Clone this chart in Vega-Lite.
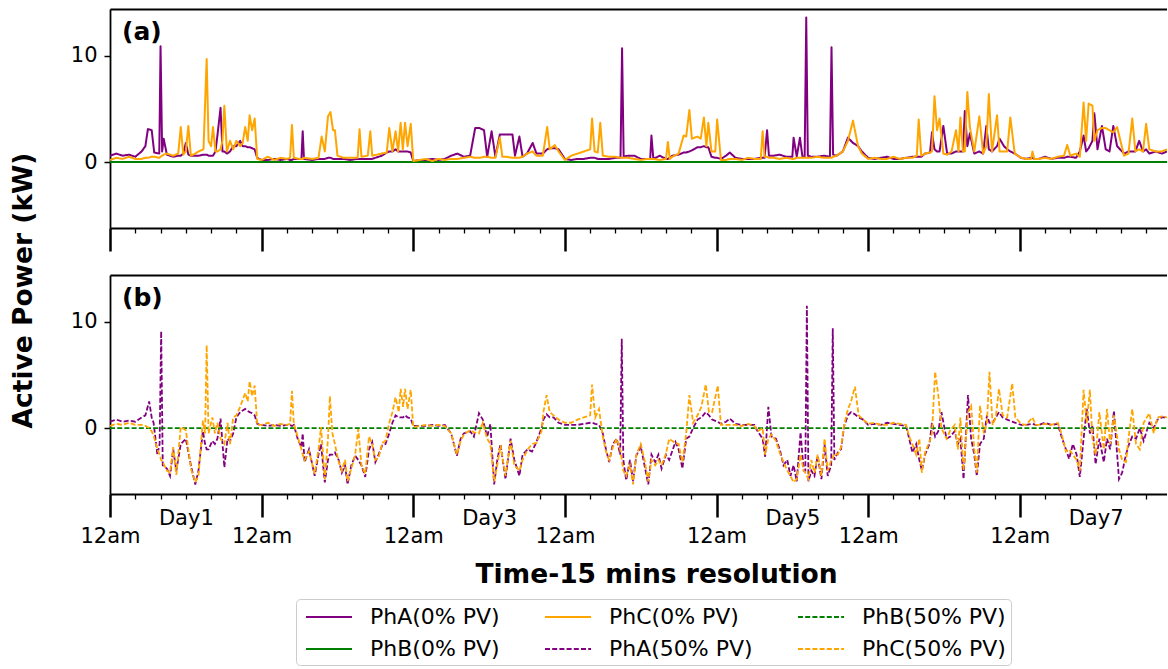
{
  "$schema": "https://vega.github.io/schema/vega-lite/v6.json",
  "autosize": {"type": "pad"},
  "padding": {"left": 10, "top": 9, "right": 0, "bottom": 0},
  "background": "white",
  "bounds": "flush",
  "spacing": 47,
  "config": {
    "font": "DejaVu Sans",
    "view": {"stroke": null},
    "axis": {"labelFont": "DejaVu Sans", "titleFont": "DejaVu Sans", "labelColor": "black", "titleColor": "black", "tickColor": "black", "domainColor": "black", "grid": false, "labelFontSize": 21, "titleFontSize": 26.5, "titleFontWeight": "bold", "domainWidth": 1.8, "labelOverlap": false, "labelFlush": false, "labelBound": false},
    "legend": {"labelFont": "DejaVu Sans", "labelFontSize": 22, "labelColor": "black", "symbolType": "M-0.667,0H3.167", "symbolSize": 576, "symbolStrokeWidth": 2, "labelOffset": 43, "columnPadding": 40, "rowPadding": 8, "padding": 5, "strokeColor": "#cccccc", "cornerRadius": 4, "fillColor": "white", "labelLimit": 0},
    "title": {"font": "DejaVu Sans", "fontSize": 25, "fontWeight": "bold", "color": "black", "anchor": "start", "frame": "group", "orient": "top", "offset": 0, "dx": 12, "dy": 40, "baseline": "alphabetic"}
  },
  "datasets": {
    "A": [
      {"t":0,"PhA(0% PV)":0.6,"PhC(0% PV)":0.2},{"t":1,"PhA(0% PV)":0.8,"PhC(0% PV)":0.4},{"t":2,"PhA(0% PV)":0.6,"PhC(0% PV)":0.3},{"t":3,"PhA(0% PV)":0.7,"PhC(0% PV)":0.5},{"t":4,"PhA(0% PV)":0.5,"PhC(0% PV)":0.3},{"t":5,"PhA(0% PV)":1.0,"PhC(0% PV)":0.3},{"t":5.6,"PhA(0% PV)":1.5,"PhC(0% PV)":0.4},{"t":6,"PhA(0% PV)":3.1,"PhC(0% PV)":0.4},{"t":6.6,"PhA(0% PV)":3.0,"PhC(0% PV)":0.5},{"t":7,"PhA(0% PV)":0.9,"PhC(0% PV)":0.5},{"t":7.8,"PhA(0% PV)":0.8,"PhC(0% PV)":0.4},{"t":8,"PhA(0% PV)":10.9,"PhC(0% PV)":0.5},{"t":8.25,"PhA(0% PV)":1.0,"PhC(0% PV)":0.6},{"t":8.5,"PhA(0% PV)":2.2,"PhC(0% PV)":0.7},{"t":9,"PhA(0% PV)":0.7,"PhC(0% PV)":0.8},{"t":10,"PhA(0% PV)":0.5,"PhC(0% PV)":0.6},{"t":10.8,"PhA(0% PV)":0.6,"PhC(0% PV)":0.8},{"t":11.2,"PhA(0% PV)":0.6,"PhC(0% PV)":3.3},{"t":11.6,"PhA(0% PV)":0.8,"PhC(0% PV)":0.7},{"t":12,"PhA(0% PV)":1.8,"PhC(0% PV)":1.0},{"t":12.4,"PhA(0% PV)":0.7,"PhC(0% PV)":3.4},{"t":12.8,"PhA(0% PV)":0.6,"PhC(0% PV)":0.6},{"t":13.5,"PhA(0% PV)":0.6,"PhC(0% PV)":0.8},{"t":14,"PhA(0% PV)":0.6,"PhC(0% PV)":1.0},{"t":14.8,"PhA(0% PV)":0.7,"PhC(0% PV)":1.2},{"t":15.3,"PhA(0% PV)":0.7,"PhC(0% PV)":9.7},{"t":15.6,"PhA(0% PV)":0.6,"PhC(0% PV)":2.0},{"t":16,"PhA(0% PV)":0.6,"PhC(0% PV)":1.5},{"t":16.3,"PhA(0% PV)":0.6,"PhC(0% PV)":3.3},{"t":16.7,"PhA(0% PV)":1.0,"PhC(0% PV)":1.0},{"t":17,"PhA(0% PV)":2.5,"PhC(0% PV)":1.0},{"t":17.5,"PhA(0% PV)":5.1,"PhC(0% PV)":1.2},{"t":17.8,"PhA(0% PV)":1.0,"PhC(0% PV)":2.0},{"t":18.1,"PhA(0% PV)":1.0,"PhC(0% PV)":5.3},{"t":18.5,"PhA(0% PV)":0.8,"PhC(0% PV)":1.0},{"t":19,"PhA(0% PV)":1.0,"PhC(0% PV)":2.0},{"t":19.5,"PhA(0% PV)":1.5,"PhC(0% PV)":1.2},{"t":20,"PhA(0% PV)":1.5,"PhC(0% PV)":2.0},{"t":20.6,"PhA(0% PV)":2.0,"PhC(0% PV)":1.5},{"t":21,"PhA(0% PV)":1.5,"PhC(0% PV)":1.8},{"t":21.4,"PhA(0% PV)":1.5,"PhC(0% PV)":3.3},{"t":21.8,"PhA(0% PV)":1.4,"PhC(0% PV)":2.0},{"t":22.1,"PhA(0% PV)":1.4,"PhC(0% PV)":4.4},{"t":22.5,"PhA(0% PV)":1.3,"PhC(0% PV)":3.0},{"t":22.9,"PhA(0% PV)":1.2,"PhC(0% PV)":4.1},{"t":23.3,"PhA(0% PV)":0.4,"PhC(0% PV)":0.3},
      {"t":24,"PhA(0% PV)":0.2,"PhC(0% PV)":0.2},{"t":25,"PhA(0% PV)":0.2,"PhC(0% PV)":0.5},{"t":26,"PhA(0% PV)":0.3,"PhC(0% PV)":0.2},{"t":27,"PhA(0% PV)":0.2,"PhC(0% PV)":0.4},{"t":28,"PhA(0% PV)":0.3,"PhC(0% PV)":0.3},{"t":28.5,"PhA(0% PV)":0.2,"PhC(0% PV)":0.4},{"t":28.8,"PhA(0% PV)":0.2,"PhC(0% PV)":3.5},{"t":29.1,"PhA(0% PV)":0.3,"PhC(0% PV)":0.4},{"t":30,"PhA(0% PV)":0.3,"PhC(0% PV)":0.3},{"t":30.3,"PhA(0% PV)":0.3,"PhC(0% PV)":0.3},{"t":30.5,"PhA(0% PV)":2.9,"PhC(0% PV)":0.3},{"t":30.7,"PhA(0% PV)":0.3,"PhC(0% PV)":0.4},{"t":32,"PhA(0% PV)":0.2,"PhC(0% PV)":0.3},{"t":33,"PhA(0% PV)":0.3,"PhC(0% PV)":0.4},{"t":33.5,"PhA(0% PV)":0.3,"PhC(0% PV)":2.4},{"t":34,"PhA(0% PV)":0.3,"PhC(0% PV)":1.0},{"t":34.5,"PhA(0% PV)":0.4,"PhC(0% PV)":4.3},{"t":34.9,"PhA(0% PV)":0.4,"PhC(0% PV)":4.7},{"t":35.3,"PhA(0% PV)":0.3,"PhC(0% PV)":3.0},{"t":35.6,"PhA(0% PV)":0.3,"PhC(0% PV)":3.0},{"t":36,"PhA(0% PV)":0.3,"PhC(0% PV)":0.6},{"t":37,"PhA(0% PV)":0.3,"PhC(0% PV)":0.4},{"t":38,"PhA(0% PV)":0.2,"PhC(0% PV)":0.4},{"t":39.2,"PhA(0% PV)":0.3,"PhC(0% PV)":0.4},{"t":39.5,"PhA(0% PV)":0.3,"PhC(0% PV)":3.1},{"t":39.8,"PhA(0% PV)":0.3,"PhC(0% PV)":0.5},{"t":40.8,"PhA(0% PV)":0.3,"PhC(0% PV)":0.6},{"t":41.2,"PhA(0% PV)":0.3,"PhC(0% PV)":2.9},{"t":41.5,"PhA(0% PV)":0.3,"PhC(0% PV)":0.6},{"t":43,"PhA(0% PV)":0.6,"PhC(0% PV)":0.8},{"t":43.8,"PhA(0% PV)":0.9,"PhC(0% PV)":0.9},{"t":44.2,"PhA(0% PV)":1.0,"PhC(0% PV)":3.2},{"t":44.7,"PhA(0% PV)":1.0,"PhC(0% PV)":1.0},{"t":45.2,"PhA(0% PV)":1.2,"PhC(0% PV)":2.9},{"t":45.6,"PhA(0% PV)":1.0,"PhC(0% PV)":1.0},{"t":46,"PhA(0% PV)":1.0,"PhC(0% PV)":3.7},{"t":46.35,"PhA(0% PV)":1.0,"PhC(0% PV)":1.2},{"t":46.7,"PhA(0% PV)":1.0,"PhC(0% PV)":3.7},{"t":47.1,"PhA(0% PV)":1.0,"PhC(0% PV)":1.5},{"t":47.6,"PhA(0% PV)":0.9,"PhC(0% PV)":3.6},
      {"t":48,"PhA(0% PV)":0.1,"PhC(0% PV)":0.1},{"t":49,"PhA(0% PV)":0.2,"PhC(0% PV)":0.2},{"t":50,"PhA(0% PV)":0.2,"PhC(0% PV)":0.3},{"t":51,"PhA(0% PV)":0.3,"PhC(0% PV)":0.1},{"t":52,"PhA(0% PV)":0.2,"PhC(0% PV)":0.3},{"t":53,"PhA(0% PV)":0.3,"PhC(0% PV)":0.2},{"t":54,"PhA(0% PV)":0.6,"PhC(0% PV)":0.3},{"t":55,"PhA(0% PV)":0.8,"PhC(0% PV)":0.3},{"t":56,"PhA(0% PV)":0.5,"PhC(0% PV)":0.4},{"t":57,"PhA(0% PV)":0.6,"PhC(0% PV)":0.5},{"t":57.8,"PhA(0% PV)":3.2,"PhC(0% PV)":0.4},{"t":58.5,"PhA(0% PV)":3.2,"PhC(0% PV)":0.4},{"t":59.2,"PhA(0% PV)":3.0,"PhC(0% PV)":0.5},{"t":59.7,"PhA(0% PV)":0.5,"PhC(0% PV)":0.5},{"t":60.4,"PhA(0% PV)":2.9,"PhC(0% PV)":0.4},{"t":61,"PhA(0% PV)":0.5,"PhC(0% PV)":0.4},{"t":61.7,"PhA(0% PV)":2.6,"PhC(0% PV)":2.3},{"t":62.1,"PhA(0% PV)":2.6,"PhC(0% PV)":0.5},{"t":62.7,"PhA(0% PV)":2.6,"PhC(0% PV)":0.5},{"t":63.7,"PhA(0% PV)":2.6,"PhC(0% PV)":0.4},{"t":64.1,"PhA(0% PV)":0.6,"PhC(0% PV)":0.4},{"t":64.8,"PhA(0% PV)":2.4,"PhC(0% PV)":0.4},{"t":65.3,"PhA(0% PV)":0.5,"PhC(0% PV)":0.5},{"t":66,"PhA(0% PV)":0.8,"PhC(0% PV)":0.8},{"t":66.9,"PhA(0% PV)":1.8,"PhC(0% PV)":1.0},{"t":67.5,"PhA(0% PV)":0.8,"PhC(0% PV)":0.6},{"t":68.5,"PhA(0% PV)":0.8,"PhC(0% PV)":0.6},{"t":69.2,"PhA(0% PV)":1.2,"PhC(0% PV)":3.3},{"t":69.6,"PhA(0% PV)":1.3,"PhC(0% PV)":1.2},{"t":70.4,"PhA(0% PV)":1.3,"PhC(0% PV)":1.6},{"t":71,"PhA(0% PV)":1.2,"PhC(0% PV)":1.0},
      {"t":72,"PhA(0% PV)":0.3,"PhC(0% PV)":0.2},{"t":73,"PhA(0% PV)":0.2,"PhC(0% PV)":0.6},{"t":74,"PhA(0% PV)":0.3,"PhC(0% PV)":0.8},{"t":75,"PhA(0% PV)":0.3,"PhC(0% PV)":1.0},{"t":76,"PhA(0% PV)":0.4,"PhC(0% PV)":1.2},{"t":76.3,"PhA(0% PV)":0.4,"PhC(0% PV)":4.1},{"t":76.7,"PhA(0% PV)":0.4,"PhC(0% PV)":1.0},{"t":77.2,"PhA(0% PV)":0.3,"PhC(0% PV)":0.9},{"t":77.6,"PhA(0% PV)":0.3,"PhC(0% PV)":3.7},{"t":78,"PhA(0% PV)":0.3,"PhC(0% PV)":0.6},{"t":79,"PhA(0% PV)":0.3,"PhC(0% PV)":0.5},{"t":80,"PhA(0% PV)":0.4,"PhC(0% PV)":0.5},{"t":80.8,"PhA(0% PV)":0.4,"PhC(0% PV)":0.4},{"t":81.05,"PhA(0% PV)":10.7,"PhC(0% PV)":0.4},{"t":81.3,"PhA(0% PV)":0.5,"PhC(0% PV)":0.4},{"t":82,"PhA(0% PV)":0.6,"PhC(0% PV)":0.4},{"t":83,"PhA(0% PV)":0.6,"PhC(0% PV)":0.3},{"t":84,"PhA(0% PV)":0.3,"PhC(0% PV)":0.2},{"t":85,"PhA(0% PV)":0.3,"PhC(0% PV)":0.3},{"t":85.5,"PhA(0% PV)":0.3,"PhC(0% PV)":0.3},{"t":85.7,"PhA(0% PV)":2.5,"PhC(0% PV)":0.3},{"t":86,"PhA(0% PV)":0.3,"PhC(0% PV)":0.3},{"t":87,"PhA(0% PV)":0.6,"PhC(0% PV)":0.2},{"t":88,"PhA(0% PV)":0.3,"PhC(0% PV)":0.3},{"t":88.3,"PhA(0% PV)":0.3,"PhC(0% PV)":1.9},{"t":88.6,"PhA(0% PV)":0.4,"PhC(0% PV)":0.3},{"t":89,"PhA(0% PV)":0.6,"PhC(0% PV)":0.5},{"t":90,"PhA(0% PV)":0.7,"PhC(0% PV)":0.8},{"t":90.8,"PhA(0% PV)":0.9,"PhC(0% PV)":2.5},{"t":91.2,"PhA(0% PV)":0.9,"PhC(0% PV)":2.4},{"t":91.7,"PhA(0% PV)":1.0,"PhC(0% PV)":4.9},{"t":92.1,"PhA(0% PV)":1.1,"PhC(0% PV)":2.2},{"t":93,"PhA(0% PV)":1.4,"PhC(0% PV)":2.4},{"t":93.5,"PhA(0% PV)":1.4,"PhC(0% PV)":2.2},{"t":94,"PhA(0% PV)":1.5,"PhC(0% PV)":4.2},{"t":94.4,"PhA(0% PV)":1.4,"PhC(0% PV)":1.5},{"t":94.7,"PhA(0% PV)":1.4,"PhC(0% PV)":3.7},{"t":95.2,"PhA(0% PV)":0.5,"PhC(0% PV)":1.0},{"t":95.8,"PhA(0% PV)":0.4,"PhC(0% PV)":1.0},{"t":96.1,"PhA(0% PV)":0.4,"PhC(0% PV)":4.0},{"t":96.7,"PhA(0% PV)":0.3,"PhC(0% PV)":0.2},
      {"t":97.5,"PhA(0% PV)":0.6,"PhC(0% PV)":0.2},{"t":98.1,"PhA(0% PV)":0.9,"PhC(0% PV)":0.3},{"t":99,"PhA(0% PV)":0.4,"PhC(0% PV)":0.3},{"t":100,"PhA(0% PV)":0.3,"PhC(0% PV)":0.2},{"t":101,"PhA(0% PV)":0.3,"PhC(0% PV)":0.4},{"t":102,"PhA(0% PV)":0.3,"PhC(0% PV)":0.3},{"t":103,"PhA(0% PV)":0.4,"PhC(0% PV)":0.3},{"t":103.3,"PhA(0% PV)":0.4,"PhC(0% PV)":2.9},{"t":103.6,"PhA(0% PV)":0.4,"PhC(0% PV)":0.5},{"t":104,"PhA(0% PV)":3.0,"PhC(0% PV)":0.5},{"t":104.3,"PhA(0% PV)":0.6,"PhC(0% PV)":0.4},{"t":105,"PhA(0% PV)":0.6,"PhC(0% PV)":0.4},{"t":106,"PhA(0% PV)":0.7,"PhC(0% PV)":0.3},{"t":107,"PhA(0% PV)":0.5,"PhC(0% PV)":0.4},{"t":108,"PhA(0% PV)":0.5,"PhC(0% PV)":0.3},{"t":108.2,"PhA(0% PV)":2.3,"PhC(0% PV)":0.3},{"t":108.7,"PhA(0% PV)":0.5,"PhC(0% PV)":0.4},{"t":109.2,"PhA(0% PV)":2.3,"PhC(0% PV)":0.4},{"t":109.6,"PhA(0% PV)":0.5,"PhC(0% PV)":0.4},{"t":109.95,"PhA(0% PV)":0.5,"PhC(0% PV)":0.4},{"t":110.2,"PhA(0% PV)":13.6,"PhC(0% PV)":0.4},{"t":110.45,"PhA(0% PV)":0.6,"PhC(0% PV)":0.4},{"t":111,"PhA(0% PV)":0.5,"PhC(0% PV)":0.4},{"t":112,"PhA(0% PV)":0.5,"PhC(0% PV)":0.5},{"t":113,"PhA(0% PV)":0.6,"PhC(0% PV)":0.4},{"t":113.95,"PhA(0% PV)":0.5,"PhC(0% PV)":0.4},{"t":114.2,"PhA(0% PV)":10.8,"PhC(0% PV)":0.4},{"t":114.45,"PhA(0% PV)":0.7,"PhC(0% PV)":0.5},{"t":115,"PhA(0% PV)":0.6,"PhC(0% PV)":0.6},{"t":116,"PhA(0% PV)":1.0,"PhC(0% PV)":1.0},{"t":116.8,"PhA(0% PV)":2.3,"PhC(0% PV)":2.0},{"t":117.6,"PhA(0% PV)":1.8,"PhC(0% PV)":3.9},{"t":118.4,"PhA(0% PV)":1.5,"PhC(0% PV)":1.5},{"t":119,"PhA(0% PV)":1.0,"PhC(0% PV)":0.8},
      {"t":120,"PhA(0% PV)":0.4,"PhC(0% PV)":0.3},{"t":121,"PhA(0% PV)":0.3,"PhC(0% PV)":0.4},{"t":122,"PhA(0% PV)":0.4,"PhC(0% PV)":0.3},{"t":123,"PhA(0% PV)":0.5,"PhC(0% PV)":0.3},{"t":124,"PhA(0% PV)":0.3,"PhC(0% PV)":0.5},{"t":125,"PhA(0% PV)":0.3,"PhC(0% PV)":0.3},{"t":126,"PhA(0% PV)":0.4,"PhC(0% PV)":0.4},{"t":127,"PhA(0% PV)":0.5,"PhC(0% PV)":0.4},{"t":127.7,"PhA(0% PV)":0.5,"PhC(0% PV)":0.6},{"t":128,"PhA(0% PV)":0.5,"PhC(0% PV)":4.0},{"t":128.4,"PhA(0% PV)":0.5,"PhC(0% PV)":0.6},{"t":129,"PhA(0% PV)":0.8,"PhC(0% PV)":0.8},{"t":129.8,"PhA(0% PV)":0.9,"PhC(0% PV)":0.9},{"t":130.1,"PhA(0% PV)":2.8,"PhC(0% PV)":1.0},{"t":130.5,"PhA(0% PV)":1.2,"PhC(0% PV)":6.2},{"t":130.9,"PhA(0% PV)":1.0,"PhC(0% PV)":3.0},{"t":131.3,"PhA(0% PV)":1.0,"PhC(0% PV)":4.1},{"t":131.9,"PhA(0% PV)":3.4,"PhC(0% PV)":0.8},{"t":132.5,"PhA(0% PV)":0.8,"PhC(0% PV)":0.7},{"t":133.2,"PhA(0% PV)":0.8,"PhC(0% PV)":1.0},{"t":133.9,"PhA(0% PV)":1.0,"PhC(0% PV)":3.0},{"t":134.3,"PhA(0% PV)":1.0,"PhC(0% PV)":1.0},{"t":134.6,"PhA(0% PV)":1.0,"PhC(0% PV)":4.2},{"t":135,"PhA(0% PV)":1.0,"PhC(0% PV)":1.0},{"t":135.3,"PhA(0% PV)":4.8,"PhC(0% PV)":1.0},{"t":135.7,"PhA(0% PV)":1.5,"PhC(0% PV)":6.6},{"t":136.1,"PhA(0% PV)":2.7,"PhC(0% PV)":3.3},{"t":136.8,"PhA(0% PV)":0.8,"PhC(0% PV)":1.0},{"t":137.6,"PhA(0% PV)":1.0,"PhC(0% PV)":4.3},{"t":138.2,"PhA(0% PV)":0.8,"PhC(0% PV)":0.8},{"t":138.7,"PhA(0% PV)":3.4,"PhC(0% PV)":1.5},{"t":139.1,"PhA(0% PV)":1.2,"PhC(0% PV)":6.4},{"t":139.6,"PhA(0% PV)":1.0,"PhC(0% PV)":1.0},{"t":140.4,"PhA(0% PV)":1.5,"PhC(0% PV)":4.4},{"t":140.8,"PhA(0% PV)":2.2,"PhC(0% PV)":1.0},{"t":141.5,"PhA(0% PV)":1.5,"PhC(0% PV)":1.0},{"t":142,"PhA(0% PV)":1.2,"PhC(0% PV)":1.0},{"t":142.5,"PhA(0% PV)":1.0,"PhC(0% PV)":4.2},{"t":143.2,"PhA(0% PV)":0.8,"PhC(0% PV)":0.8},
      {"t":144.2,"PhA(0% PV)":0.4,"PhC(0% PV)":0.4},{"t":145,"PhA(0% PV)":0.3,"PhC(0% PV)":0.3},{"t":145.8,"PhA(0% PV)":0.4,"PhC(0% PV)":0.3},{"t":146,"PhA(0% PV)":0.4,"PhC(0% PV)":1.0},{"t":146.3,"PhA(0% PV)":0.3,"PhC(0% PV)":0.3},{"t":147,"PhA(0% PV)":0.3,"PhC(0% PV)":0.3},{"t":148,"PhA(0% PV)":0.5,"PhC(0% PV)":0.4},{"t":149,"PhA(0% PV)":0.3,"PhC(0% PV)":0.3},{"t":150,"PhA(0% PV)":0.4,"PhC(0% PV)":0.5},{"t":151,"PhA(0% PV)":0.4,"PhC(0% PV)":0.6},{"t":151.5,"PhA(0% PV)":0.5,"PhC(0% PV)":1.6},{"t":152,"PhA(0% PV)":0.5,"PhC(0% PV)":0.6},{"t":152.9,"PhA(0% PV)":0.4,"PhC(0% PV)":0.8},{"t":153.5,"PhA(0% PV)":1.0,"PhC(0% PV)":0.5},{"t":154.1,"PhA(0% PV)":2.5,"PhC(0% PV)":5.6},{"t":154.5,"PhA(0% PV)":1.0,"PhC(0% PV)":2.0},{"t":154.9,"PhA(0% PV)":1.3,"PhC(0% PV)":5.5},{"t":155.5,"PhA(0% PV)":2.0,"PhC(0% PV)":5.3},{"t":155.8,"PhA(0% PV)":4.6,"PhC(0% PV)":2.0},{"t":156.3,"PhA(0% PV)":1.2,"PhC(0% PV)":3.0},{"t":157,"PhA(0% PV)":3.4,"PhC(0% PV)":3.2},{"t":157.6,"PhA(0% PV)":1.2,"PhC(0% PV)":3.2},{"t":158.2,"PhA(0% PV)":1.0,"PhC(0% PV)":3.0},{"t":158.8,"PhA(0% PV)":3.4,"PhC(0% PV)":2.8},{"t":159.4,"PhA(0% PV)":1.5,"PhC(0% PV)":3.3},{"t":160.5,"PhA(0% PV)":0.8,"PhC(0% PV)":0.6},{"t":161.2,"PhA(0% PV)":1.0,"PhC(0% PV)":0.8},{"t":161.8,"PhA(0% PV)":1.0,"PhC(0% PV)":4.1},{"t":162.3,"PhA(0% PV)":1.0,"PhC(0% PV)":1.0},{"t":162.9,"PhA(0% PV)":2.0,"PhC(0% PV)":1.2},{"t":163.5,"PhA(0% PV)":1.0,"PhC(0% PV)":1.0},{"t":164,"PhA(0% PV)":1.2,"PhC(0% PV)":3.6},{"t":164.5,"PhA(0% PV)":0.8,"PhC(0% PV)":1.2},{"t":165.5,"PhA(0% PV)":1.0,"PhC(0% PV)":1.0},{"t":166.5,"PhA(0% PV)":0.8,"PhC(0% PV)":1.0},{"t":167.3,"PhA(0% PV)":1.0,"PhC(0% PV)":1.2}
    ],
    "B": [
      {"t":0,"PhA(50% PV)":0.6,"PhC(50% PV)":0.2},{"t":1,"PhA(50% PV)":0.8,"PhC(50% PV)":0.4},{"t":2,"PhA(50% PV)":0.6,"PhC(50% PV)":0.3},{"t":3,"PhA(50% PV)":0.7,"PhC(50% PV)":0.5},{"t":4,"PhA(50% PV)":0.6,"PhC(50% PV)":0.3},{"t":5,"PhA(50% PV)":1.0,"PhC(50% PV)":0.3},{"t":5.6,"PhA(50% PV)":1.2,"PhC(50% PV)":0.2},{"t":6.2,"PhA(50% PV)":2.5,"PhC(50% PV)":0.0},{"t":6.6,"PhA(50% PV)":1.0,"PhC(50% PV)":-0.3},{"t":6.9,"PhA(50% PV)":0.5,"PhC(50% PV)":-0.7},{"t":7.5,"PhA(50% PV)":-2.5,"PhC(50% PV)":-2.0},{"t":7.85,"PhA(50% PV)":-1.5,"PhC(50% PV)":-2.5},{"t":8.1,"PhA(50% PV)":9.1,"PhC(50% PV)":-3.0},{"t":8.35,"PhA(50% PV)":-3.5,"PhC(50% PV)":-3.2},{"t":9,"PhA(50% PV)":-3.8,"PhC(50% PV)":-4.0},{"t":9.5,"PhA(50% PV)":-4.5,"PhC(50% PV)":-4.2},{"t":10,"PhA(50% PV)":-2.0,"PhC(50% PV)":-1.8},{"t":10.5,"PhA(50% PV)":-4.0,"PhC(50% PV)":-4.4},{"t":11.2,"PhA(50% PV)":-1.5,"PhC(50% PV)":0.1},{"t":12,"PhA(50% PV)":-1.0,"PhC(50% PV)":-0.2},{"t":12.8,"PhA(50% PV)":-3.5,"PhC(50% PV)":-3.8},{"t":13.5,"PhA(50% PV)":-5.3,"PhC(50% PV)":-5.1},{"t":14,"PhA(50% PV)":-4.0,"PhC(50% PV)":-4.5},{"t":14.7,"PhA(50% PV)":-0.3,"PhC(50% PV)":0.7},{"t":15.05,"PhA(50% PV)":-1.5,"PhC(50% PV)":-0.5},{"t":15.3,"PhA(50% PV)":-2.0,"PhC(50% PV)":7.8},{"t":15.6,"PhA(50% PV)":-2.0,"PhC(50% PV)":-0.5},{"t":16.2,"PhA(50% PV)":-1.2,"PhC(50% PV)":1.0},{"t":16.6,"PhA(50% PV)":-1.5,"PhC(50% PV)":-0.5},{"t":17,"PhA(50% PV)":-1.0,"PhC(50% PV)":0.5},{"t":17.5,"PhA(50% PV)":0.9,"PhC(50% PV)":-1.0},{"t":18.1,"PhA(50% PV)":-3.7,"PhC(50% PV)":-1.5},{"t":18.6,"PhA(50% PV)":-1.0,"PhC(50% PV)":0.5},{"t":19,"PhA(50% PV)":-1.2,"PhC(50% PV)":-1.5},{"t":19.5,"PhA(50% PV)":-0.5,"PhC(50% PV)":1.0},{"t":20,"PhA(50% PV)":1.0,"PhC(50% PV)":1.2},{"t":20.6,"PhA(50% PV)":1.5,"PhC(50% PV)":2.0},{"t":21.4,"PhA(50% PV)":1.8,"PhC(50% PV)":3.3},{"t":21.8,"PhA(50% PV)":1.6,"PhC(50% PV)":2.5},{"t":22.1,"PhA(50% PV)":1.5,"PhC(50% PV)":4.4},{"t":22.5,"PhA(50% PV)":1.4,"PhC(50% PV)":3.0},{"t":22.9,"PhA(50% PV)":1.2,"PhC(50% PV)":4.0},{"t":23.3,"PhA(50% PV)":0.4,"PhC(50% PV)":0.3},
      {"t":24,"PhA(50% PV)":0.3,"PhC(50% PV)":0.3},{"t":25,"PhA(50% PV)":0.2,"PhC(50% PV)":0.5},{"t":26,"PhA(50% PV)":0.3,"PhC(50% PV)":0.2},{"t":27,"PhA(50% PV)":0.2,"PhC(50% PV)":0.4},{"t":28,"PhA(50% PV)":0.3,"PhC(50% PV)":0.3},{"t":28.5,"PhA(50% PV)":0.3,"PhC(50% PV)":0.4},{"t":28.8,"PhA(50% PV)":0.2,"PhC(50% PV)":3.5},{"t":29.1,"PhA(50% PV)":0.3,"PhC(50% PV)":0.4},{"t":29.7,"PhA(50% PV)":-1.0,"PhC(50% PV)":-0.8},{"t":30.3,"PhA(50% PV)":-1.8,"PhC(50% PV)":-2.0},{"t":30.5,"PhA(50% PV)":-0.5,"PhC(50% PV)":-2.5},{"t":30.8,"PhA(50% PV)":-3.2,"PhC(50% PV)":-3.0},{"t":31.5,"PhA(50% PV)":-2.0,"PhC(50% PV)":-2.2},{"t":32.4,"PhA(50% PV)":-4.5,"PhC(50% PV)":-4.3},{"t":33,"PhA(50% PV)":-2.5,"PhC(50% PV)":-2.0},{"t":33.4,"PhA(50% PV)":-1.5,"PhC(50% PV)":0.1},{"t":34,"PhA(50% PV)":-5.1,"PhC(50% PV)":-4.8},{"t":34.5,"PhA(50% PV)":-3.0,"PhC(50% PV)":-1.0},{"t":34.8,"PhA(50% PV)":-2.5,"PhC(50% PV)":3.0},{"t":35.2,"PhA(50% PV)":-2.5,"PhC(50% PV)":-0.5},{"t":35.6,"PhA(50% PV)":-2.3,"PhC(50% PV)":-1.5},{"t":36.2,"PhA(50% PV)":-3.0,"PhC(50% PV)":-3.2},{"t":36.7,"PhA(50% PV)":-4.2,"PhC(50% PV)":-4.0},{"t":37.2,"PhA(50% PV)":-3.5,"PhC(50% PV)":-3.0},{"t":37.6,"PhA(50% PV)":-5.3,"PhC(50% PV)":-5.0},{"t":38.2,"PhA(50% PV)":-3.5,"PhC(50% PV)":-3.8},{"t":38.8,"PhA(50% PV)":-2.6,"PhC(50% PV)":-2.5},{"t":39.3,"PhA(50% PV)":-3.0,"PhC(50% PV)":-0.1},{"t":39.8,"PhA(50% PV)":-3.5,"PhC(50% PV)":-3.5},{"t":40.4,"PhA(50% PV)":-4.6,"PhC(50% PV)":-4.3},{"t":41,"PhA(50% PV)":-2.0,"PhC(50% PV)":-0.8},{"t":41.5,"PhA(50% PV)":-1.3,"PhC(50% PV)":-1.5},{"t":42,"PhA(50% PV)":-3.2,"PhC(50% PV)":-3.0},{"t":42.5,"PhA(50% PV)":-2.5,"PhC(50% PV)":-2.8},{"t":43.1,"PhA(50% PV)":-1.6,"PhC(50% PV)":-1.4},{"t":43.6,"PhA(50% PV)":-1.5,"PhC(50% PV)":-1.2},{"t":44.2,"PhA(50% PV)":-0.5,"PhC(50% PV)":0.5},{"t":44.7,"PhA(50% PV)":0.5,"PhC(50% PV)":1.5},{"t":45.2,"PhA(50% PV)":1.2,"PhC(50% PV)":2.9},{"t":45.7,"PhA(50% PV)":1.0,"PhC(50% PV)":1.5},{"t":46,"PhA(50% PV)":1.0,"PhC(50% PV)":3.7},{"t":46.4,"PhA(50% PV)":1.0,"PhC(50% PV)":2.0},{"t":46.7,"PhA(50% PV)":1.2,"PhC(50% PV)":3.7},{"t":47.1,"PhA(50% PV)":1.0,"PhC(50% PV)":1.8},{"t":47.6,"PhA(50% PV)":0.9,"PhC(50% PV)":3.6},
      {"t":48,"PhA(50% PV)":0.2,"PhC(50% PV)":0.1},{"t":49,"PhA(50% PV)":0.2,"PhC(50% PV)":0.2},{"t":50,"PhA(50% PV)":0.2,"PhC(50% PV)":0.3},{"t":51,"PhA(50% PV)":0.3,"PhC(50% PV)":0.2},{"t":52,"PhA(50% PV)":0.2,"PhC(50% PV)":0.3},{"t":53,"PhA(50% PV)":0.3,"PhC(50% PV)":0.2},{"t":54,"PhA(50% PV)":-0.5,"PhC(50% PV)":-0.5},{"t":54.9,"PhA(50% PV)":-2.6,"PhC(50% PV)":-2.5},{"t":55.5,"PhA(50% PV)":-1.0,"PhC(50% PV)":-1.2},{"t":56,"PhA(50% PV)":-0.5,"PhC(50% PV)":-0.6},{"t":57,"PhA(50% PV)":-0.3,"PhC(50% PV)":-0.2},{"t":57.6,"PhA(50% PV)":-0.8,"PhC(50% PV)":-0.4},{"t":58.4,"PhA(50% PV)":1.4,"PhC(50% PV)":-0.5},{"t":59,"PhA(50% PV)":0.8,"PhC(50% PV)":0.5},{"t":59.7,"PhA(50% PV)":-0.8,"PhC(50% PV)":-1.0},{"t":60.2,"PhA(50% PV)":0.4,"PhC(50% PV)":-1.5},{"t":60.8,"PhA(50% PV)":-5.3,"PhC(50% PV)":-5.0},{"t":61.3,"PhA(50% PV)":-3.0,"PhC(50% PV)":-3.5},{"t":61.8,"PhA(50% PV)":-1.5,"PhC(50% PV)":-1.6},{"t":62.6,"PhA(50% PV)":-4.8,"PhC(50% PV)":-4.5},{"t":63.4,"PhA(50% PV)":-1.0,"PhC(50% PV)":-1.2},{"t":64,"PhA(50% PV)":-3.0,"PhC(50% PV)":-3.5},{"t":64.8,"PhA(50% PV)":-4.5,"PhC(50% PV)":-4.0},{"t":65.3,"PhA(50% PV)":-2.5,"PhC(50% PV)":-3.0},{"t":66.1,"PhA(50% PV)":-2.0,"PhC(50% PV)":-2.0},{"t":66.8,"PhA(50% PV)":-2.2,"PhC(50% PV)":-1.5},{"t":67.5,"PhA(50% PV)":-1.3,"PhC(50% PV)":-1.4},{"t":68.3,"PhA(50% PV)":0.0,"PhC(50% PV)":-0.3},{"t":68.6,"PhA(50% PV)":0.8,"PhC(50% PV)":1.5},{"t":69.1,"PhA(50% PV)":1.3,"PhC(50% PV)":3.1},{"t":69.6,"PhA(50% PV)":1.0,"PhC(50% PV)":1.5},{"t":70.2,"PhA(50% PV)":1.0,"PhC(50% PV)":1.2},{"t":71,"PhA(50% PV)":0.5,"PhC(50% PV)":0.8},
      {"t":72,"PhA(50% PV)":0.3,"PhC(50% PV)":0.5},{"t":73,"PhA(50% PV)":0.3,"PhC(50% PV)":0.5},{"t":74,"PhA(50% PV)":0.3,"PhC(50% PV)":0.8},{"t":75,"PhA(50% PV)":0.4,"PhC(50% PV)":1.0},{"t":76,"PhA(50% PV)":0.5,"PhC(50% PV)":1.2},{"t":76.3,"PhA(50% PV)":0.5,"PhC(50% PV)":4.1},{"t":76.8,"PhA(50% PV)":0.4,"PhC(50% PV)":1.0},{"t":77.4,"PhA(50% PV)":0.3,"PhC(50% PV)":1.8},{"t":78,"PhA(50% PV)":-0.5,"PhC(50% PV)":-0.8},{"t":78.5,"PhA(50% PV)":-2.0,"PhC(50% PV)":-2.2},{"t":79,"PhA(50% PV)":-3.2,"PhC(50% PV)":-3.0},{"t":79.6,"PhA(50% PV)":-1.5,"PhC(50% PV)":-1.8},{"t":80.2,"PhA(50% PV)":-1.0,"PhC(50% PV)":-1.0},{"t":80.75,"PhA(50% PV)":-2.5,"PhC(50% PV)":-2.0},{"t":81,"PhA(50% PV)":8.4,"PhC(50% PV)":-3.0},{"t":81.25,"PhA(50% PV)":-3.0,"PhC(50% PV)":-4.0},{"t":81.7,"PhA(50% PV)":-4.9,"PhC(50% PV)":-4.5},{"t":82.3,"PhA(50% PV)":-3.0,"PhC(50% PV)":-3.5},{"t":82.8,"PhA(50% PV)":-5.0,"PhC(50% PV)":-5.3},{"t":83.3,"PhA(50% PV)":-2.6,"PhC(50% PV)":-2.5},{"t":84,"PhA(50% PV)":-1.7,"PhC(50% PV)":-1.5},{"t":84.6,"PhA(50% PV)":-3.5,"PhC(50% PV)":-3.0},{"t":85.2,"PhA(50% PV)":-5.3,"PhC(50% PV)":-5.0},{"t":85.7,"PhA(50% PV)":-2.5,"PhC(50% PV)":-3.0},{"t":86.3,"PhA(50% PV)":-3.2,"PhC(50% PV)":-3.5},{"t":86.8,"PhA(50% PV)":-2.5,"PhC(50% PV)":-3.0},{"t":87.3,"PhA(50% PV)":-3.8,"PhC(50% PV)":-3.5},{"t":88,"PhA(50% PV)":-2.5,"PhC(50% PV)":-2.4},{"t":88.5,"PhA(50% PV)":-3.0,"PhC(50% PV)":-1.0},{"t":89.5,"PhA(50% PV)":-1.3,"PhC(50% PV)":-1.4},{"t":90,"PhA(50% PV)":-2.0,"PhC(50% PV)":-1.5},{"t":90.6,"PhA(50% PV)":-3.8,"PhC(50% PV)":-3.2},{"t":91.2,"PhA(50% PV)":-1.0,"PhC(50% PV)":-0.5},{"t":91.7,"PhA(50% PV)":-0.8,"PhC(50% PV)":3.1},{"t":92.3,"PhA(50% PV)":0.0,"PhC(50% PV)":0.5},{"t":93,"PhA(50% PV)":0.8,"PhC(50% PV)":1.2},{"t":93.6,"PhA(50% PV)":1.0,"PhC(50% PV)":2.0},{"t":94.3,"PhA(50% PV)":1.5,"PhC(50% PV)":4.1},{"t":94.8,"PhA(50% PV)":1.2,"PhC(50% PV)":1.5},{"t":95.3,"PhA(50% PV)":0.8,"PhC(50% PV)":1.5},{"t":96.2,"PhA(50% PV)":0.6,"PhC(50% PV)":4.0},{"t":96.7,"PhA(50% PV)":0.4,"PhC(50% PV)":0.3},
      {"t":97.5,"PhA(50% PV)":0.6,"PhC(50% PV)":0.3},{"t":98.1,"PhA(50% PV)":0.9,"PhC(50% PV)":0.3},{"t":99,"PhA(50% PV)":0.4,"PhC(50% PV)":0.3},{"t":100,"PhA(50% PV)":0.3,"PhC(50% PV)":0.2},{"t":101,"PhA(50% PV)":0.3,"PhC(50% PV)":0.4},{"t":102,"PhA(50% PV)":0.3,"PhC(50% PV)":0.2},{"t":102.5,"PhA(50% PV)":-0.3,"PhC(50% PV)":-0.3},{"t":103.3,"PhA(50% PV)":-1.0,"PhC(50% PV)":0.0},{"t":103.7,"PhA(50% PV)":-2.7,"PhC(50% PV)":-2.5},{"t":104.2,"PhA(50% PV)":2.0,"PhC(50% PV)":-1.0},{"t":104.7,"PhA(50% PV)":-0.8,"PhC(50% PV)":-0.6},{"t":105.4,"PhA(50% PV)":-1.0,"PhC(50% PV)":-1.2},{"t":106,"PhA(50% PV)":-2.0,"PhC(50% PV)":-2.3},{"t":106.6,"PhA(50% PV)":-3.5,"PhC(50% PV)":-3.2},{"t":107.2,"PhA(50% PV)":-3.0,"PhC(50% PV)":-4.0},{"t":107.7,"PhA(50% PV)":-4.5,"PhC(50% PV)":-4.5},{"t":108.2,"PhA(50% PV)":-3.5,"PhC(50% PV)":-5.1},{"t":108.7,"PhA(50% PV)":-5.0,"PhC(50% PV)":-4.8},{"t":109.3,"PhA(50% PV)":-0.4,"PhC(50% PV)":-2.5},{"t":109.8,"PhA(50% PV)":-4.0,"PhC(50% PV)":-4.0},{"t":110.05,"PhA(50% PV)":-4.0,"PhC(50% PV)":-4.2},{"t":110.3,"PhA(50% PV)":11.5,"PhC(50% PV)":-4.5},{"t":110.55,"PhA(50% PV)":-5.0,"PhC(50% PV)":-4.8},{"t":111,"PhA(50% PV)":-4.0,"PhC(50% PV)":-3.0},{"t":111.5,"PhA(50% PV)":-4.5,"PhC(50% PV)":-4.2},{"t":112,"PhA(50% PV)":-2.6,"PhC(50% PV)":-2.5},{"t":112.6,"PhA(50% PV)":-4.8,"PhC(50% PV)":-4.5},{"t":113.1,"PhA(50% PV)":-1.5,"PhC(50% PV)":-1.0},{"t":113.6,"PhA(50% PV)":-4.5,"PhC(50% PV)":-4.0},{"t":114.15,"PhA(50% PV)":-3.5,"PhC(50% PV)":-3.0},{"t":114.4,"PhA(50% PV)":9.4,"PhC(50% PV)":-2.8},{"t":114.65,"PhA(50% PV)":-3.0,"PhC(50% PV)":-2.4},{"t":115.2,"PhA(50% PV)":-2.3,"PhC(50% PV)":-2.5},{"t":115.7,"PhA(50% PV)":-2.0,"PhC(50% PV)":-1.8},{"t":116.2,"PhA(50% PV)":0.2,"PhC(50% PV)":0.3},{"t":116.8,"PhA(50% PV)":1.2,"PhC(50% PV)":1.8},{"t":117.3,"PhA(50% PV)":1.5,"PhC(50% PV)":2.5},{"t":117.9,"PhA(50% PV)":1.3,"PhC(50% PV)":3.9},{"t":118.5,"PhA(50% PV)":1.0,"PhC(50% PV)":1.2},{"t":119.2,"PhA(50% PV)":0.8,"PhC(50% PV)":0.8},
      {"t":120,"PhA(50% PV)":0.3,"PhC(50% PV)":0.4},{"t":121,"PhA(50% PV)":0.4,"PhC(50% PV)":0.5},{"t":122,"PhA(50% PV)":0.3,"PhC(50% PV)":0.3},{"t":123,"PhA(50% PV)":0.5,"PhC(50% PV)":0.3},{"t":124,"PhA(50% PV)":0.4,"PhC(50% PV)":0.5},{"t":125,"PhA(50% PV)":0.3,"PhC(50% PV)":0.4},{"t":126,"PhA(50% PV)":0.2,"PhC(50% PV)":0.3},{"t":126.5,"PhA(50% PV)":-1.0,"PhC(50% PV)":-0.8},{"t":127,"PhA(50% PV)":-2.3,"PhC(50% PV)":-1.5},{"t":127.6,"PhA(50% PV)":-1.5,"PhC(50% PV)":-2.5},{"t":128.1,"PhA(50% PV)":-3.0,"PhC(50% PV)":-1.0},{"t":128.5,"PhA(50% PV)":-4.0,"PhC(50% PV)":-4.2},{"t":129,"PhA(50% PV)":-2.5,"PhC(50% PV)":-2.3},{"t":129.7,"PhA(50% PV)":-1.5,"PhC(50% PV)":-1.3},{"t":130.1,"PhA(50% PV)":0.5,"PhC(50% PV)":-0.5},{"t":130.6,"PhA(50% PV)":-0.8,"PhC(50% PV)":5.3},{"t":131.1,"PhA(50% PV)":-0.3,"PhC(50% PV)":3.1},{"t":131.6,"PhA(50% PV)":1.5,"PhC(50% PV)":0.0},{"t":132.4,"PhA(50% PV)":-1.0,"PhC(50% PV)":-1.0},{"t":133,"PhA(50% PV)":-0.8,"PhC(50% PV)":-0.2},{"t":133.7,"PhA(50% PV)":-0.3,"PhC(50% PV)":0.3},{"t":134.2,"PhA(50% PV)":-1.5,"PhC(50% PV)":-2.0},{"t":134.6,"PhA(50% PV)":-1.0,"PhC(50% PV)":1.0},{"t":135.1,"PhA(50% PV)":-4.8,"PhC(50% PV)":-4.0},{"t":135.8,"PhA(50% PV)":3.1,"PhC(50% PV)":1.5},{"t":136.3,"PhA(50% PV)":-1.0,"PhC(50% PV)":2.1},{"t":136.8,"PhA(50% PV)":-2.5,"PhC(50% PV)":-2.0},{"t":137.2,"PhA(50% PV)":-4.5,"PhC(50% PV)":-4.2},{"t":137.7,"PhA(50% PV)":-1.5,"PhC(50% PV)":2.1},{"t":138.3,"PhA(50% PV)":-1.0,"PhC(50% PV)":-0.5},{"t":138.8,"PhA(50% PV)":1.2,"PhC(50% PV)":0.5},{"t":139.2,"PhA(50% PV)":0.5,"PhC(50% PV)":5.3},{"t":139.7,"PhA(50% PV)":0.5,"PhC(50% PV)":0.3},{"t":140.2,"PhA(50% PV)":1.0,"PhC(50% PV)":1.0},{"t":140.7,"PhA(50% PV)":1.5,"PhC(50% PV)":3.7},{"t":141.3,"PhA(50% PV)":1.0,"PhC(50% PV)":1.2},{"t":142,"PhA(50% PV)":0.8,"PhC(50% PV)":1.0},{"t":142.8,"PhA(50% PV)":0.6,"PhC(50% PV)":4.2},{"t":143.3,"PhA(50% PV)":0.5,"PhC(50% PV)":1.0},
      {"t":144.2,"PhA(50% PV)":0.3,"PhC(50% PV)":0.4},{"t":145,"PhA(50% PV)":0.3,"PhC(50% PV)":0.3},{"t":146,"PhA(50% PV)":0.4,"PhC(50% PV)":1.0},{"t":146.5,"PhA(50% PV)":0.3,"PhC(50% PV)":0.3},{"t":147,"PhA(50% PV)":0.3,"PhC(50% PV)":0.3},{"t":148,"PhA(50% PV)":0.5,"PhC(50% PV)":0.4},{"t":149,"PhA(50% PV)":0.3,"PhC(50% PV)":0.3},{"t":150,"PhA(50% PV)":0.4,"PhC(50% PV)":0.5},{"t":150.6,"PhA(50% PV)":-0.8,"PhC(50% PV)":-0.5},{"t":151.3,"PhA(50% PV)":-2.0,"PhC(50% PV)":-2.2},{"t":151.8,"PhA(50% PV)":-2.9,"PhC(50% PV)":-2.0},{"t":152.4,"PhA(50% PV)":-1.5,"PhC(50% PV)":-2.5},{"t":153,"PhA(50% PV)":-2.5,"PhC(50% PV)":-3.0},{"t":153.5,"PhA(50% PV)":-4.6,"PhC(50% PV)":-4.0},{"t":154.1,"PhA(50% PV)":-1.0,"PhC(50% PV)":3.6},{"t":154.6,"PhA(50% PV)":1.8,"PhC(50% PV)":0.5},{"t":155.1,"PhA(50% PV)":-0.5,"PhC(50% PV)":3.6},{"t":155.5,"PhA(50% PV)":0.2,"PhC(50% PV)":-1.0},{"t":156,"PhA(50% PV)":-3.4,"PhC(50% PV)":-2.5},{"t":156.6,"PhA(50% PV)":-1.0,"PhC(50% PV)":1.5},{"t":157.3,"PhA(50% PV)":-3.2,"PhC(50% PV)":-2.0},{"t":157.8,"PhA(50% PV)":-1.0,"PhC(50% PV)":1.8},{"t":158.3,"PhA(50% PV)":-2.0,"PhC(50% PV)":-1.5},{"t":158.9,"PhA(50% PV)":1.6,"PhC(50% PV)":1.2},{"t":159.7,"PhA(50% PV)":-4.8,"PhC(50% PV)":-2.0},{"t":160.2,"PhA(50% PV)":-4.2,"PhC(50% PV)":-3.0},{"t":160.8,"PhA(50% PV)":-2.5,"PhC(50% PV)":-3.2},{"t":161.3,"PhA(50% PV)":-1.5,"PhC(50% PV)":-0.5},{"t":161.8,"PhA(50% PV)":-0.8,"PhC(50% PV)":1.8},{"t":162.4,"PhA(50% PV)":-1.0,"PhC(50% PV)":-1.5},{"t":163,"PhA(50% PV)":0.0,"PhC(50% PV)":-2.0},{"t":163.6,"PhA(50% PV)":-1.2,"PhC(50% PV)":0.5},{"t":164.5,"PhA(50% PV)":0.5,"PhC(50% PV)":1.4},{"t":165.2,"PhA(50% PV)":0.0,"PhC(50% PV)":-0.5},{"t":165.8,"PhA(50% PV)":0.8,"PhC(50% PV)":1.0},{"t":166.5,"PhA(50% PV)":1.0,"PhC(50% PV)":1.1},{"t":167.3,"PhA(50% PV)":1.0,"PhC(50% PV)":1.0}
    ],
    "G": [
      {"t":0,"v":0,"s":"PhB(0% PV)"},{"t":167.3,"v":0,"s":"PhB(0% PV)"},
      {"t":0,"v":0,"s":"PhB(50% PV)"},{"t":167.3,"v":0,"s":"PhB(50% PV)"}
    ]
  },
  "vconcat": [
    {
      "width": 1057,
      "height": 219,
      "title": {"text": "(a)"},
      "resolve": {"axis": {"x": "independent"}},
      "layer": [
        {
          "data": {"name": "A"},
          "transform": [{"fold": ["PhA(0% PV)"], "as": ["s", "v"]}],
          "mark": {"type": "line", "strokeWidth": 2, "clip": true, "strokeJoin": "round"},
          "encoding": {
            "x": {"field": "t", "type": "quantitative", "scale": {"domain": [0, 167.3], "nice": false, "zero": false},
                  "axis": {"orient": "bottom", "values": [0,4,8,12,16,20,24,28,32,36,40,44,48,52,56,60,64,68,72,76,80,84,88,92,96,100,104,108,112,116,120,124,128,132,136,140,144,148,152,156,160,164], "labels": false, "title": null, "domain": true,
                           "tickSize": {"condition": {"test": "datum.value % 24 === 0", "value": 23}, "value": 5},
                           "tickWidth": {"condition": {"test": "datum.value % 24 === 0", "value": 2.5}, "value": 1.3}}},
            "y": {"field": "v", "type": "quantitative", "scale": {"domain": [-6.2, 14.4], "nice": false, "zero": false},
                  "axis": {"values": [0, 10], "tickSize": 6, "tickWidth": 1.5, "labelPadding": 7, "domain": true, "title": "Active Power (kW)", "titleX": -79, "titleY": 281, "titleBaseline": "alphabetic", "titleAlign": "center", "titleAngle": 270}},
            "color": {"field": "s", "type": "nominal", "scale": {"domain": ["PhA(0% PV)", "PhC(0% PV)", "PhB(50% PV)", "PhB(0% PV)", "PhA(50% PV)", "PhC(50% PV)"], "range": ["#800080", "#FFA500", "#008000", "#008000", "#800080", "#FFA500"]},
                      "legend": {"title": null, "orient": "none", "legendX": 186, "legendY": 590, "columns": 3, "direction": "horizontal", "symbolType": "M-0.667,0H3.167"}},
            "strokeDash": {"field": "s", "type": "nominal", "scale": {"domain": ["PhA(0% PV)", "PhC(0% PV)", "PhB(50% PV)", "PhB(0% PV)", "PhA(50% PV)", "PhC(50% PV)"], "range": [[1, 0], [1, 0], [5, 2.2], [1, 0], [5, 2.2], [5, 2.2]]},
                      "legend": {"title": null, "orient": "none", "legendX": 186, "legendY": 590, "columns": 3, "direction": "horizontal", "symbolType": "M-0.667,0H3.167"}}
          }
        },
        {
          "data": {"name": "G"},
          "transform": [{"filter": "datum.s === 'PhB(0% PV)'"}],
          "mark": {"type": "line", "strokeWidth": 2, "clip": true},
          "encoding": {
            "x": {"field": "t", "type": "quantitative", "scale": {"domain": [0, 167.3], "nice": false, "zero": false},
                  "axis": {"orient": "top", "ticks": false, "labels": false, "title": null, "domain": true}},
            "y": {"field": "v", "type": "quantitative", "scale": {"domain": [-6.2, 14.4], "nice": false, "zero": false},
                  "axis": {"values": [0, 10], "tickSize": 6, "tickWidth": 1.5, "labelPadding": 7, "domain": true, "title": "Active Power (kW)", "titleX": -79, "titleY": 281, "titleBaseline": "alphabetic", "titleAlign": "center", "titleAngle": 270}},
            "color": {"field": "s", "type": "nominal", "scale": {"domain": ["PhA(0% PV)", "PhC(0% PV)", "PhB(50% PV)", "PhB(0% PV)", "PhA(50% PV)", "PhC(50% PV)"], "range": ["#800080", "#FFA500", "#008000", "#008000", "#800080", "#FFA500"]},
                      "legend": {"title": null, "orient": "none", "legendX": 186, "legendY": 590, "columns": 3, "direction": "horizontal", "symbolType": "M-0.667,0H3.167"}},
            "strokeDash": {"field": "s", "type": "nominal", "scale": {"domain": ["PhA(0% PV)", "PhC(0% PV)", "PhB(50% PV)", "PhB(0% PV)", "PhA(50% PV)", "PhC(50% PV)"], "range": [[1, 0], [1, 0], [5, 2.2], [1, 0], [5, 2.2], [5, 2.2]]},
                      "legend": {"title": null, "orient": "none", "legendX": 186, "legendY": 590, "columns": 3, "direction": "horizontal", "symbolType": "M-0.667,0H3.167"}}
          }
        },
        {
          "data": {"name": "A"},
          "transform": [{"fold": ["PhC(0% PV)"], "as": ["s", "v"]}],
          "mark": {"type": "line", "strokeWidth": 2, "clip": true, "strokeJoin": "round"},
          "encoding": {
            "x": {"field": "t", "type": "quantitative", "scale": {"domain": [0, 167.3], "nice": false, "zero": false}, "axis": null},
            "y": {"field": "v", "type": "quantitative", "scale": {"domain": [-6.2, 14.4], "nice": false, "zero": false},
                  "axis": {"values": [0, 10], "tickSize": 6, "tickWidth": 1.5, "labelPadding": 7, "domain": true, "title": "Active Power (kW)", "titleX": -79, "titleY": 281, "titleBaseline": "alphabetic", "titleAlign": "center", "titleAngle": 270}},
            "color": {"field": "s", "type": "nominal", "scale": {"domain": ["PhA(0% PV)", "PhC(0% PV)", "PhB(50% PV)", "PhB(0% PV)", "PhA(50% PV)", "PhC(50% PV)"], "range": ["#800080", "#FFA500", "#008000", "#008000", "#800080", "#FFA500"]},
                      "legend": {"title": null, "orient": "none", "legendX": 186, "legendY": 590, "columns": 3, "direction": "horizontal", "symbolType": "M-0.667,0H3.167"}},
            "strokeDash": {"field": "s", "type": "nominal", "scale": {"domain": ["PhA(0% PV)", "PhC(0% PV)", "PhB(50% PV)", "PhB(0% PV)", "PhA(50% PV)", "PhC(50% PV)"], "range": [[1, 0], [1, 0], [5, 2.2], [1, 0], [5, 2.2], [5, 2.2]]},
                      "legend": {"title": null, "orient": "none", "legendX": 186, "legendY": 590, "columns": 3, "direction": "horizontal", "symbolType": "M-0.667,0H3.167"}}
          }
        }
      ]
    },
    {
      "width": 1057,
      "height": 219,
      "title": {"text": "(b)"},
      "resolve": {"axis": {"x": "independent"}},
      "layer": [
        {
          "data": {"name": "B"},
          "transform": [{"fold": ["PhA(50% PV)"], "as": ["s", "v"]}],
          "mark": {"type": "line", "strokeWidth": 1.8, "clip": true},
          "encoding": {
            "x": {"field": "t", "type": "quantitative", "scale": {"domain": [0, 167.3], "nice": false, "zero": false},
                  "axis": {"orient": "bottom", "values": [0,4,8,12,16,20,24,28,32,36,40,44,48,52,56,60,64,68,72,76,80,84,88,92,96,100,104,108,112,116,120,124,128,132,136,140,144,148,152,156,160,164], "domain": true,
                           "labelExpr": "datum.value % 24 === 0 ? '12am' : (datum.value % 48 === 12 ? 'Day' + (floor(datum.value / 24) + 1) : '')",
                           "labelPadding": 8, "labelAlign": "center", "labelBaseline": "top",
                           "tickSize": {"condition": {"test": "datum.value % 24 === 0", "value": 23}, "value": 5},
                           "tickWidth": {"condition": {"test": "datum.value % 24 === 0", "value": 2.5}, "value": 1.3},
                           "title": "Time-15 mins resolution", "titleX": 546, "titleY": 88, "titleBaseline": "alphabetic", "titleAlign": "center"}},
            "y": {"field": "v", "type": "quantitative", "scale": {"domain": [-6.2, 14.4], "nice": false, "zero": false},
                  "axis": {"values": [0, 10], "tickSize": 6, "tickWidth": 1.5, "labelPadding": 7, "domain": true, "title": null}},
            "color": {"field": "s", "type": "nominal", "scale": {"domain": ["PhA(0% PV)", "PhC(0% PV)", "PhB(50% PV)", "PhB(0% PV)", "PhA(50% PV)", "PhC(50% PV)"], "range": ["#800080", "#FFA500", "#008000", "#008000", "#800080", "#FFA500"]},
                      "legend": {"title": null, "orient": "none", "legendX": 186, "legendY": 590, "columns": 3, "direction": "horizontal", "symbolType": "M-0.667,0H3.167"}},
            "strokeDash": {"field": "s", "type": "nominal", "scale": {"domain": ["PhA(0% PV)", "PhC(0% PV)", "PhB(50% PV)", "PhB(0% PV)", "PhA(50% PV)", "PhC(50% PV)"], "range": [[1, 0], [1, 0], [5, 2.2], [1, 0], [5, 2.2], [5, 2.2]]},
                      "legend": {"title": null, "orient": "none", "legendX": 186, "legendY": 590, "columns": 3, "direction": "horizontal", "symbolType": "M-0.667,0H3.167"}}
          }
        },
        {
          "data": {"name": "G"},
          "transform": [{"filter": "datum.s === 'PhB(50% PV)'"}],
          "mark": {"type": "line", "strokeWidth": 1.8, "clip": true},
          "encoding": {
            "x": {"field": "t", "type": "quantitative", "scale": {"domain": [0, 167.3], "nice": false, "zero": false},
                  "axis": {"orient": "top", "ticks": false, "labels": false, "title": null, "domain": true}},
            "y": {"field": "v", "type": "quantitative", "scale": {"domain": [-6.2, 14.4], "nice": false, "zero": false},
                  "axis": {"values": [0, 10], "tickSize": 6, "tickWidth": 1.5, "labelPadding": 7, "domain": true, "title": null}},
            "color": {"field": "s", "type": "nominal", "scale": {"domain": ["PhA(0% PV)", "PhC(0% PV)", "PhB(50% PV)", "PhB(0% PV)", "PhA(50% PV)", "PhC(50% PV)"], "range": ["#800080", "#FFA500", "#008000", "#008000", "#800080", "#FFA500"]},
                      "legend": {"title": null, "orient": "none", "legendX": 186, "legendY": 590, "columns": 3, "direction": "horizontal", "symbolType": "M-0.667,0H3.167"}},
            "strokeDash": {"field": "s", "type": "nominal", "scale": {"domain": ["PhA(0% PV)", "PhC(0% PV)", "PhB(50% PV)", "PhB(0% PV)", "PhA(50% PV)", "PhC(50% PV)"], "range": [[1, 0], [1, 0], [5, 2.2], [1, 0], [5, 2.2], [5, 2.2]]},
                      "legend": {"title": null, "orient": "none", "legendX": 186, "legendY": 590, "columns": 3, "direction": "horizontal", "symbolType": "M-0.667,0H3.167"}}
          }
        },
        {
          "data": {"name": "B"},
          "transform": [{"fold": ["PhC(50% PV)"], "as": ["s", "v"]}],
          "mark": {"type": "line", "strokeWidth": 1.8, "clip": true},
          "encoding": {
            "x": {"field": "t", "type": "quantitative", "scale": {"domain": [0, 167.3], "nice": false, "zero": false}, "axis": null},
            "y": {"field": "v", "type": "quantitative", "scale": {"domain": [-6.2, 14.4], "nice": false, "zero": false},
                  "axis": {"values": [0, 10], "tickSize": 6, "tickWidth": 1.5, "labelPadding": 7, "domain": true, "title": null}},
            "color": {"field": "s", "type": "nominal", "scale": {"domain": ["PhA(0% PV)", "PhC(0% PV)", "PhB(50% PV)", "PhB(0% PV)", "PhA(50% PV)", "PhC(50% PV)"], "range": ["#800080", "#FFA500", "#008000", "#008000", "#800080", "#FFA500"]},
                      "legend": {"title": null, "orient": "none", "legendX": 186, "legendY": 590, "columns": 3, "direction": "horizontal", "symbolType": "M-0.667,0H3.167"}},
            "strokeDash": {"field": "s", "type": "nominal", "scale": {"domain": ["PhA(0% PV)", "PhC(0% PV)", "PhB(50% PV)", "PhB(0% PV)", "PhA(50% PV)", "PhC(50% PV)"], "range": [[1, 0], [1, 0], [5, 2.2], [1, 0], [5, 2.2], [5, 2.2]]},
                      "legend": {"title": null, "orient": "none", "legendX": 186, "legendY": 590, "columns": 3, "direction": "horizontal", "symbolType": "M-0.667,0H3.167"}}
          }
        }
      ]
    }
  ]
}
